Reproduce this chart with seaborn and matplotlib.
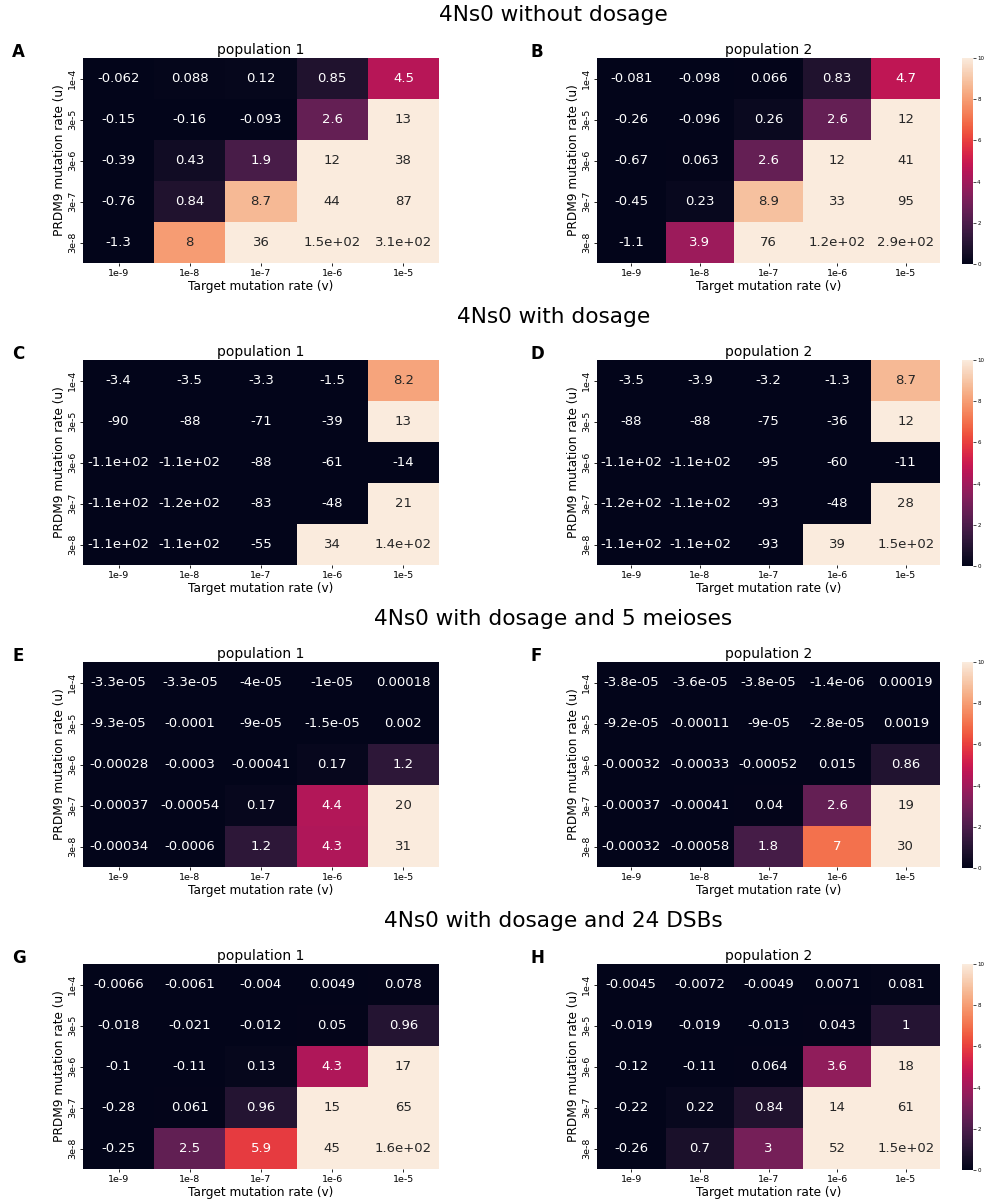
import numpy as np
import pandas as pd
import seaborn as sns
import matplotlib
matplotlib.use("Agg")
import matplotlib.pyplot as plt

U_LABELS = ["1e-4", "3e-5", "3e-6", "3e-7", "3e-8"]
V_LABELS = ["1e-9", "1e-8", "1e-7", "1e-6", "1e-5"]

SECTION_TITLES = ["4Ns0 without dosage", "4Ns0 with dosage",
                  "4Ns0 with dosage and 5 meioses", "4Ns0 with dosage and 24 DSBs"]
PANEL_LETTERS = ["A", "B", "C", "D", "E", "F", "G", "H"]

# rows = PRDM9 mutation rate (u), cols = target mutation rate (v)
no_dosage_pop1 = [[-0.062, 0.088, 0.12, 0.85, 4.5],
                  [-0.15, -0.16, -0.093, 2.6, 13],
                  [-0.39, 0.43, 1.9, 12, 38],
                  [-0.76, 0.84, 8.7, 44, 87],
                  [-1.3, 8, 36, 150, 310]]
no_dosage_pop2 = [[-0.081, -0.098, 0.066, 0.83, 4.7],
                  [-0.26, -0.096, 0.26, 2.6, 12],
                  [-0.67, 0.063, 2.6, 12, 41],
                  [-0.45, 0.23, 8.9, 33, 95],
                  [-1.1, 3.9, 76, 120, 290]]

dosage_pop1 = [[-3.4, -3.5, -3.3, -1.5, 8.2],
               [-90, -88, -71, -39, 13],
               [-110, -110, -88, -61, -14],
               [-110, -120, -83, -48, 21],
               [-110, -110, -55, 34, 140]]
dosage_pop2 = [[-3.5, -3.9, -3.2, -1.3, 8.7],
               [-88, -88, -75, -36, 12],
               [-110, -110, -95, -60, -11],
               [-120, -110, -93, -48, 28],
               [-110, -110, -93, 39, 150]]

meioses_pop1 = [[-3.3e-05, -3.3e-05, -4e-05, -1e-05, 0.00018],
                [-9.3e-05, -0.0001, -9e-05, -1.5e-05, 0.002],
                [-0.00028, -0.0003, -0.00041, 0.17, 1.2],
                [-0.00037, -0.00054, 0.17, 4.4, 20],
                [-0.00034, -0.0006, 1.2, 4.3, 31]]
meioses_pop2 = [[-3.8e-05, -3.6e-05, -3.8e-05, -1.4e-06, 0.00019],
                [-9.2e-05, -0.00011, -9e-05, -2.8e-05, 0.0019],
                [-0.00032, -0.00033, -0.00052, 0.015, 0.86],
                [-0.00037, -0.00041, 0.04, 2.6, 19],
                [-0.00032, -0.00058, 1.8, 7, 30]]

dsb_pop1 = [[-0.0066, -0.0061, -0.004, 0.0049, 0.078],
            [-0.018, -0.021, -0.012, 0.05, 0.96],
            [-0.1, -0.11, 0.13, 4.3, 17],
            [-0.28, 0.061, 0.96, 15, 65],
            [-0.25, 2.5, 5.9, 45, 160]]
dsb_pop2 = [[-0.0045, -0.0072, -0.0049, 0.0071, 0.081],
            [-0.019, -0.019, -0.013, 0.043, 1],
            [-0.12, -0.11, 0.064, 3.6, 18],
            [-0.22, 0.22, 0.84, 14, 61],
            [-0.26, 0.7, 3, 52, 150]]

ROWS = [(no_dosage_pop1, no_dosage_pop2),
        (dosage_pop1, dosage_pop2),
        (meioses_pop1, meioses_pop2),
        (dsb_pop1, dsb_pop2)]

W, H = 984, 1202
fig = plt.figure(figsize=(W / 100, H / 100), dpi=100)


def px_axes(x0, top, w, h):
    return fig.add_axes([x0 / W, 1 - (top + h) / H, w / W, h / H])


for r, (pop1, pop2) in enumerate(ROWS):
    top = 58 + r * 302
    fig.text(553.5 / W, 1 - (15 + r * 302) / H, SECTION_TITLES[r],
             ha='center', va='center', fontsize=15.6)

    for c, data in enumerate([pop1, pop2]):
        if c == 0:
            ax = px_axes(83, top, 356, 205)
            cax = None
        else:
            ax = px_axes(597, top, 343, 205)
            cax = px_axes(962, top, 11, 206)
        df = pd.DataFrame(data, index=U_LABELS, columns=V_LABELS)
        sns.heatmap(df, ax=ax, vmin=0, vmax=10, annot=True,
                    annot_kws={'size': 9.5}, cbar=(c == 1), cbar_ax=cax)
        ax.set_title("population {}".format(c + 1), fontsize=10, pad=3)
        ax.set_xlabel("Target mutation rate (v)", fontsize=8.7, labelpad=1)
        ax.set_ylabel("PRDM9 mutation rate (u)", fontsize=8.7, labelpad=1)
        ax.tick_params(labelsize=6.8, length=2.5, width=0.6, pad=2)
        if cax is not None:
            cax.tick_params(labelsize=4, length=2, width=0.5, pad=1)
            cax.yaxis.set_ticks([0, 2, 4, 6, 8, 10])

        letter_x = 12 if c == 0 else 531
        fig.text(letter_x / W, 1 - (52 + r * 302) / H, PANEL_LETTERS[2 * r + c],
                 ha='left', va='center', fontsize=12, fontweight='bold')

fig.savefig("out.png", dpi=100)
